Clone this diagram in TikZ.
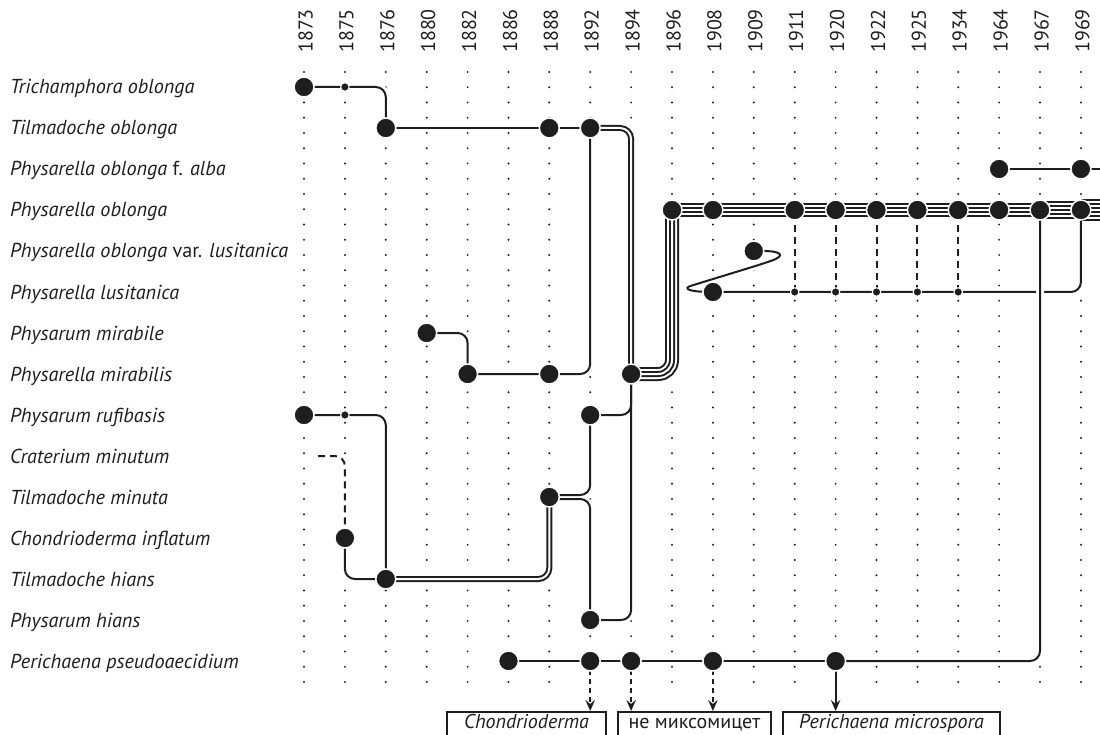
\documentclass[tikz,border=0pt]{standalone}
\usepackage{fontspec}
\setmainfont{PT Sans}
\usetikzlibrary{arrows.meta}
\pgfdeclarelayer{dots}\pgfdeclarelayer{halo}\pgfdeclarelayer{lines}\pgfdeclarelayer{lines2}
\pgfsetlayers{dots,halo,lines,lines2,main}
\definecolor{ink}{HTML}{1E1E1E}
\definecolor{txt}{HTML}{1E1E1E}
\tikzset{
  big/.style={circle,fill=ink,draw=white,line width=1.5pt,minimum size=20pt,inner sep=0pt},
  small/.style={circle,fill=ink,draw=white,line width=1pt,minimum size=8.5pt,inner sep=0pt},
  ln/.style={draw=ink,line width=2pt,rounded corners=10pt},
  halo/.style={draw=white,line width=8pt,rounded corners=10pt},
  dsh/.style={dash pattern=on 7pt off 5pt},
  adsh/.style={dash pattern=on 5pt off 4pt},
  lbl/.style={anchor=base west,font=\fontsize{20.2}{22}\selectfont\itshape,text=txt,inner sep=0pt},
  yr/.style={rotate=90,anchor=base west,font=\fontsize{20}{22}\selectfont,text=txt,inner sep=0pt},
  bx/.style={draw=ink,line width=1.6pt,anchor=north,font=\fontsize{20}{22}\selectfont,text=txt,
    text height=14pt,text depth=30pt,inner ysep=3pt,inner xsep=0pt},
  arr/.style={-{Stealth[length=11pt,width=9.5pt,inset=4pt]}},
}
\newcommand\lk[2][]{%
  \begin{pgfonlayer}{halo}\path[halo,#1,draw=white,line width=8pt,solid] #2;\end{pgfonlayer}%
  \begin{pgfonlayer}{lines}\path[ln,#1] #2;\end{pgfonlayer}}
\newcommand\bund[3][12pt]{%
  \pgfmathtruncatemacro\bn{#2}%
  \pgfmathsetmacro\hw{4*\bn+4}%
  \begin{pgfonlayer}{halo}\path[draw=white,rounded corners=#1,line width=\hw pt] #3;\end{pgfonlayer}%
  \begin{pgfonlayer}{lines}%
  \foreach \j in {1,...,\bn}{%
    \pgfmathsetmacro\w{2*(2*\bn-1-2*(\j-1))}%
    \ifodd\j\relax\def\cc{ink}\else\def\cc{white}\fi
    \path[draw=\cc,line width=\w pt,rounded corners=#1] #3;}%
  \end{pgfonlayer}}
\newcommand\N[4][big]{\node[#1] (#2) at (c#3|-r#4) {};}
\begin{document}
\begin{tikzpicture}[x=1pt,y=-1pt]
\useasboundingbox (0,0) rectangle (1100,735);
\clip (0,0) rectangle (1100,735);
\begin{pgfonlayer}{dots}
\fill[white] (0,0) rectangle (1100,735);
\end{pgfonlayer}
% columns and rows
\foreach \yr/\x in {1873/304.0,1875/344.9,1876/385.8,1880/426.7,1882/467.6,1886/508.5,1888/549.3,1892/590.2,1894/631.1,1896/672.0,1908/712.9,1909/753.8,1911/794.7,1920/835.6,1922/876.5,1925/917.4,1934/958.2,1964/999.1,1967/1040.0,1969/1080.9}{%
  \coordinate (c\yr) at (\x,0);
  \node[yr] (y\yr) at ({\x+8.5},53) {\yr};
  \begin{pgfonlayer}{dots}
  \foreach \k in {0,...,40}{\fill[ink] (\x,{72+15.25*\k}) circle (1.1pt);}
  \end{pgfonlayer}
}
\foreach \r/\y in {1/87,2/128,3/169,4/210,5/251,6/292,7/333,8/374,9/415,10/456,11/497,12/538,13/579,14/620,15/661}{%
  \coordinate (r\r) at (0,\y);}
% labels
\node[lbl] (l1) at (10,94) {Trichamphora oblonga};
\node[lbl] (l2) at (10,135) {Tilmadoche oblonga};
\node[lbl] (l3) at (10,176) {Physarella oblonga {\upshape f.} alba};
\node[lbl] (l4) at (10,217) {Physarella oblonga};
\node[lbl] (l5) at (10,258) {Physarella oblonga {\upshape var.} lusitanica};
\node[lbl] (l6) at (10,299) {Physarella lusitanica};
\node[lbl] (l7) at (10,340) {Physarum mirabile};
\node[lbl] (l8) at (10,381) {Physarella mirabilis};
\node[lbl] (l9) at (10,422) {Physarum rufibasis};
\node[lbl] (l10) at (10,463) {Craterium minutum};
\node[lbl] (l11) at (10,504) {Tilmadoche minuta};
\node[lbl] (l12) at (10,545) {Chondrioderma inflatum};
\node[lbl] (l13) at (10,586) {Tilmadoche hians};
\node[lbl] (l14) at (10,627) {Physarum hians};
\node[lbl] (l15) at (10,668) {Perichaena pseudoaecidium};
% nodes
\N{b1873r1}{1873}{1} \N[small]{s1875r1}{1875}{1}
\N{b1876r2}{1876}{2} \N{b1888r2}{1888}{2} \N{b1892r2}{1892}{2}
\N{b1964r3}{1964}{3} \N{b1969r3}{1969}{3}
\N{b1896r4}{1896}{4} \N{b1908r4}{1908}{4} \N{b1911r4}{1911}{4} \N{b1920r4}{1920}{4}
\N{b1922r4}{1922}{4} \N{b1925r4}{1925}{4} \N{b1934r4}{1934}{4} \N{b1964r4}{1964}{4}
\N{b1967r4}{1967}{4} \N{b1969r4}{1969}{4}
\N{b1909r5}{1909}{5}
\N{b1908r6}{1908}{6} \N[small]{s1911r6}{1911}{6} \N[small]{s1920r6}{1920}{6}
\N[small]{s1922r6}{1922}{6} \N[small]{s1925r6}{1925}{6} \N[small]{s1934r6}{1934}{6}
\N{b1880r7}{1880}{7}
\N{b1882r8}{1882}{8} \N{b1888r8}{1888}{8} \N{b1894r8}{1894}{8}
\N{b1873r9}{1873}{9} \N[small]{s1875r9}{1875}{9} \N{b1892r9}{1892}{9}
\N{b1888r11}{1888}{11}
\N{b1875r12}{1875}{12}
\N{b1876r13}{1876}{13}
\N{b1892r14}{1892}{14}
\N{b1886r15}{1886}{15} \N{b1892r15}{1892}{15} \N{b1894r15}{1894}{15}
\N{b1908r15}{1908}{15} \N{b1920r15}{1920}{15}
\coordinate (e3) at (1115,169);
\coordinate (e4) at (1115,210);
\coordinate (d10) at (318,456);
% boxes
\node[bx,minimum width=159pt] (bxA) at (526.5,711) {\itshape Chondrioderma};
\node[bx,minimum width=153pt] (bxB) at (694.5,711) {не миксомицет};
\node[bx,minimum width=217pt] (bxC) at (891.5,711) {\itshape Perichaena microspora};
% connectors
\lk{(b1873r1.center) -- (s1875r1.center) -| (b1876r2.center)}
\lk{(b1876r2.center) -- (b1888r2.center) -- (b1892r2.center)}
\bund[11pt]{2}{(b1892r2.center) -| (b1894r8.center)}
\lk{(b1880r7.center) -| (b1882r8.center)}
\lk{(b1882r8.center) -- (b1888r8.center) -| (b1892r2.center)}
\lk{(b1892r9.center) -| (b1894r8.center)}
\lk{(b1892r14.center) -| (b1894r8.center)}
\bund[14pt]{4}{(b1894r8.center) -| (b1896r4.center)}
\bund{4}{(b1896r4.center) -- (b1908r4.center) -- (b1911r4.center) -- (b1920r4.center) -- (b1922r4.center) -- (b1925r4.center) -- (b1934r4.center) -- (b1964r4.center) -- (b1967r4.center)}
\bund{5}{(b1967r4.center) -- (b1969r4.center)}
\bund{6}{(b1969r4.center) -- (e4)}
\lk{(b1964r3.center) -- (b1969r3.center) -- (e3)}
\lk{(b1909r5.center) .. controls (785,250) and (785,256) .. (762,264) -- (700,283) .. controls (684,288) and (686,292) .. (b1908r6.center)}
\lk{(b1908r6.center) -- (s1911r6.center) -- (s1920r6.center) -- (s1922r6.center) -- (s1925r6.center) -- (s1934r6.center) -| (b1969r4.center)}
\lk[dsh]{(s1911r6.center) -- (b1911r4.center)}
\lk[dsh]{(s1920r6.center) -- (b1920r4.center)}
\lk[dsh]{(s1922r6.center) -- (b1922r4.center)}
\lk[dsh]{(s1925r6.center) -- (b1925r4.center)}
\lk[dsh]{(s1934r6.center) -- (b1934r4.center)}
\lk{(b1873r9.center) -- (s1875r9.center) -| (b1876r13.center)}
\lk[dsh]{(d10) -| (b1875r12.center)}
\lk{(b1875r12.center) |- (b1876r13.center)}
\bund[11pt]{2}{(b1876r13.center) -| (b1888r11.center)}
\lk{([yshift=2pt]b1888r11.center) -| (b1892r9.center)}
\lk{([yshift=-2pt]b1888r11.center) -| (b1892r14.center)}
\lk{(b1886r15.center) -- (b1892r15.center) -- (b1894r15.center) -- (b1908r15.center) -- (b1920r15.center)}
\begin{pgfonlayer}{lines2}
\draw[ln,preaction={draw=white,line width=8pt}] (b1920r15.center) -| (b1967r4.center);
\end{pgfonlayer}
\begin{pgfonlayer}{lines}
\draw[ln,adsh,arr] (b1892r15.center) -- (b1892r15.center |- bxA.north);
\draw[ln,adsh,arr] (b1894r15.center) -- (b1894r15.center |- bxB.north);
\draw[ln,adsh,arr] (b1908r15.center) -- (b1908r15.center |- bxB.north);
\draw[ln,arr] (b1920r15.center) -- (b1920r15.center |- bxC.north);
\end{pgfonlayer}
\end{tikzpicture}
\end{document}
